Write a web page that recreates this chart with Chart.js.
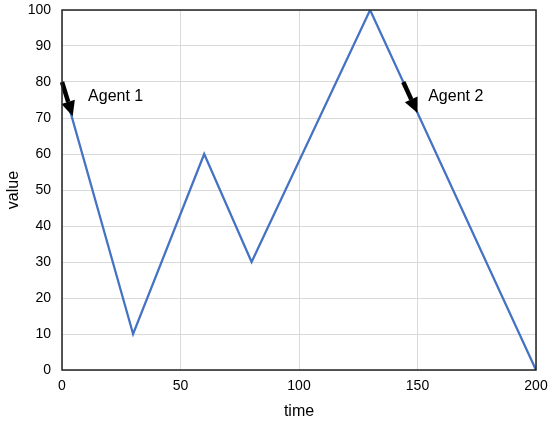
<!DOCTYPE html>
<html>
<head>
<meta charset="utf-8">
<script src="https://cdn.jsdelivr.net/npm/chart.js@4"></script>
<style>
  body { margin: 0; background: #fff; }
</style>
</head>
<body>
<canvas id="myChart" width="550" height="421"></canvas>
<script>
// data
const timeValues = [0, 30, 60, 80, 130, 200];
const seriesValues = [80, 10, 60, 30, 100, 0];
const agentLabels = ['Agent 1', 'Agent 2'];
const arrowTails = [[0, 80], [144, 80]];
const arrowHeads = [[4.5, 70.5], [150, 71.4]];
const labelPos = [[11, 76], [154.5, 76]];

const FONT = "'Liberation Sans', Arial, sans-serif";

const annotations = {
  id: 'annotations',
  afterDatasetsDraw(chart) {
    const { ctx, scales: { x, y } } = chart;
    ctx.save();
    // arrows
    arrowTails.forEach((t, i) => {
      const x0 = x.getPixelForValue(t[0]), y0 = y.getPixelForValue(t[1]);
      const x1 = x.getPixelForValue(arrowHeads[i][0]), y1 = y.getPixelForValue(arrowHeads[i][1]);
      const ang = Math.atan2(y1 - y0, x1 - x0);
      const headLen = 15, headW = 7;
      const bx = x1 - headLen * Math.cos(ang), by = y1 - headLen * Math.sin(ang);
      ctx.strokeStyle = 'black';
      ctx.fillStyle = 'black';
      ctx.lineWidth = 4.5;
      ctx.beginPath();
      ctx.moveTo(x0, y0);
      ctx.lineTo(bx, by);
      ctx.stroke();
      ctx.beginPath();
      ctx.moveTo(x1, y1);
      ctx.lineTo(bx + headW * Math.sin(ang), by - headW * Math.cos(ang));
      ctx.lineTo(bx - headW * Math.sin(ang), by + headW * Math.cos(ang));
      ctx.closePath();
      ctx.fill();
    });
    // labels
    ctx.font = '16px ' + FONT;
    ctx.textBaseline = 'middle';
    ctx.textAlign = 'left';
    ctx.fillStyle = 'black';
    agentLabels.forEach((txt, i) => {
      ctx.fillText(txt, x.getPixelForValue(labelPos[i][0]), y.getPixelForValue(labelPos[i][1]));
    });
    // plot border
    const a = chart.chartArea;
    ctx.lineWidth = 1.5;
    ctx.strokeStyle = '#222';
    ctx.strokeRect(a.left, a.top, a.right - a.left, a.bottom - a.top);
    ctx.restore();
  }
};

const ctx = document.getElementById('myChart');
const myChart = new Chart(ctx, {
  type: 'line',
  data: {
    datasets: [{
      data: timeValues.map((t, i) => ({ x: t, y: seriesValues[i] })),
      borderColor: '#4472C4',
      borderWidth: 2.25,
      pointRadius: 0,
      tension: 0
    }]
  },
  options: {
    responsive: false,
    animation: false,
    layout: { padding: { top: 10, right: 14, left: 0, bottom: 0 } },
    plugins: {
      legend: { display: false },
      tooltip: { enabled: false }
    },
    scales: {
      x: {
        type: 'linear',
        min: 0,
        max: 200,
        ticks: { stepSize: 50, color: 'black', padding: 8, font: { family: FONT, size: 14 } },
        grid: { color: '#d9d9d9', drawTicks: false },
        border: { display: false },
        title: { display: true, text: 'time', color: 'black', padding: { top: 4, bottom: 0 }, font: { family: FONT, size: 16 } },
        afterFit(scale) {
          scale.height = 51;
          scale.paddingLeft = 0;
          scale.paddingRight = 0;
        }
      },
      y: {
        min: 0,
        max: 100,
        ticks: { stepSize: 10, color: 'black', padding: 11, font: { family: FONT, size: 14 } },
        grid: { color: '#d9d9d9', drawTicks: false },
        border: { display: false },
        title: { display: true, text: 'value', color: 'black', padding: { top: 4, bottom: 4 }, font: { family: FONT, size: 16 } },
        afterFit(scale) {
          scale.width = 62;
          scale.paddingTop = 0;
          scale.paddingBottom = 0;
        }
      }
    }
  },
  plugins: [annotations]
});
</script>
</body>
</html>
